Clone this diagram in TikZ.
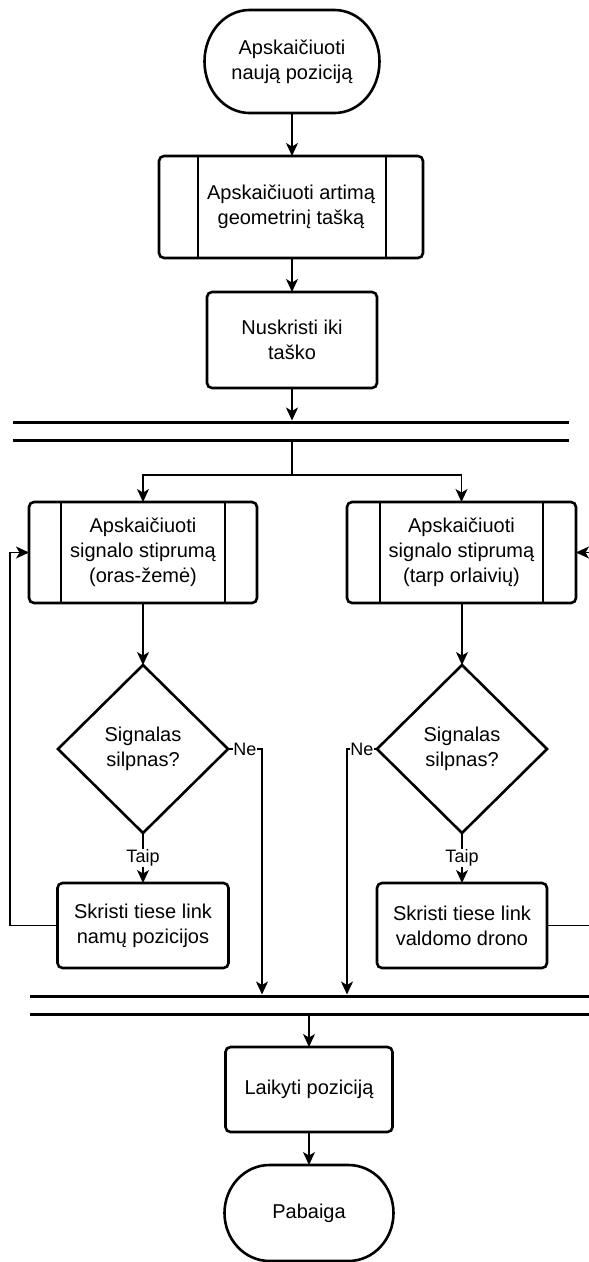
\documentclass[tikz,border=0pt]{standalone}
\usepackage{fontspec}
\setmainfont{Liberation Sans}
\usetikzlibrary{arrows.meta,shapes.geometric,calc}

\tikzset{
  base/.style={font=\fontsize{20}{25}\selectfont, align=center, inner sep=0pt, outer sep=0pt},
  proc/.style={base, draw, line width=2.6pt, rounded corners=5pt},
  term/.style={base},
  dec/.style={base, draw, diamond, aspect=1, line width=2.6pt},
  bar/.style={fill=black, inner sep=0pt, outer sep=0pt, minimum height=3pt},
  arr/.style={line width=1.3pt, -{Stealth[length=13pt,width=12pt,inset=3.5pt]}},
  lbl/.style={font=\fontsize{18}{21}\selectfont, fill=white, inner sep=1pt},
  outline/.style={line width=2.6pt, line join=round},
}

\begin{document}
\begin{tikzpicture}[x=1pt,y=1pt]
\useasboundingbox (0,0) rectangle (589,-1262);
\clip (0,0) rectangle (589,-1262);

% start terminator
\node[term, minimum width=175pt, minimum height=103pt] (start) at (292,-61.5) {Apskaičiuoti\\naują poziciją};
\draw[outline] ($(start.north west)+(45,0)$) -- ($(start.north east)+(-45,0)$)
  arc[start angle=90, end angle=-90, x radius=45, y radius=51.5]
  -- ($(start.south west)+(45,0)$)
  arc[start angle=270, end angle=90, x radius=45, y radius=51.5] -- cycle;

% predefined process: nearest geometric point
\node[proc, minimum width=264pt, minimum height=102pt] (sub1) at (291,-207) {Apskaičiuoti artimą\\geometrinį tašką};
\draw[outline] ([xshift=39pt]sub1.north west) -- ([xshift=39pt]sub1.south west);
\draw[outline] ([xshift=-37pt]sub1.north east) -- ([xshift=-37pt]sub1.south east);

\node[proc, minimum width=170pt, minimum height=96pt] (box2) at (292,-340) {Nuskristi iki\\taško};

% fork bars
\node[bar, minimum width=556pt] (bar1) at (291,-422) {};
\node[bar, minimum width=556pt] (bar2) at (291,-440) {};

% two parallel branches
\node[proc, minimum width=228pt, minimum height=101pt] (sub2) at (143,-552.5) {Apskaičiuoti\\signalo stiprumą\\(oras-žemė)};
\draw[outline] ([xshift=32pt]sub2.north west) -- ([xshift=32pt]sub2.south west);
\draw[outline] ([xshift=-32pt]sub2.north east) -- ([xshift=-32pt]sub2.south east);

\node[proc, minimum width=229pt, minimum height=101pt] (sub3) at (461.5,-552.5) {Apskaičiuoti\\signalo stiprumą\\(tarp orlaivių)};
\draw[outline] ([xshift=33pt]sub3.north west) -- ([xshift=33pt]sub3.south west);
\draw[outline] ([xshift=-33pt]sub3.north east) -- ([xshift=-33pt]sub3.south east);

\node[dec, minimum width=170pt, minimum height=168pt] (d1) at (143,-749) {Signalas\\silpnas?};
\node[dec, minimum width=170pt, minimum height=168pt] (d2) at (462,-749) {Signalas\\silpnas?};

\node[proc, minimum width=171pt, minimum height=85pt] (box3) at (143,-925.5) {Skristi tiese link\\namų pozicijos};
\node[proc, minimum width=170pt, minimum height=85pt] (box4) at (462,-925.5) {Skristi tiese link\\valdomo drono};

% join bars
\node[bar, minimum width=562pt] (bar3) at (311,-996) {};
\node[bar, minimum width=562pt] (bar4) at (311,-1014) {};

\node[proc, minimum width=167pt, minimum height=85pt] (box5) at (309,-1089.5) {Laikyti poziciją};

% end terminator
\node[term, minimum width=169pt, minimum height=96pt] (end) at (309,-1213) {Pabaiga};
\draw[outline] ($(end.north west)+(45,0)$) -- ($(end.north east)+(-45,0)$)
  arc[start angle=90, end angle=-90, x radius=45, y radius=48]
  -- ($(end.south west)+(45,0)$)
  arc[start angle=270, end angle=90, x radius=45, y radius=48] -- cycle;

% helper points for connector routing
\coordinate (split) at (292,-475);
\coordinate (noL) at (262,-749);
\coordinate (noR) at (347,-749);
\coordinate (loopL) at (10,0);
\coordinate (loopR) at (591,0);

% connectors
\draw[arr] (start.south) -- (start.south |- sub1.north);
\draw[arr] (sub1.south -| box2.north) -- (box2.north);
\draw[arr] (box2.south) -- (box2.south |- bar1.north);
\draw[line width=1.3pt] (box2.south |- bar2.south) -- (split);
\draw[arr] (split) -| (sub2.north);
\draw[arr] (split) -| (sub3.north);

\draw[arr] (sub2.south) -- (d1.north);
\draw[arr] (sub3.south -| d2.north) -- (d2.north);

\draw[arr] (d1.south) -- node[lbl]{Taip} (box3.north);
\draw[arr] (d2.south) -- node[lbl]{Taip} (box4.north);

\draw[arr] (d1.east) -- node[lbl, inner sep=0.5pt]{Ne} (noL) -- (noL |- bar3.north);
\draw[arr] (d2.west) -- node[lbl, inner sep=0.5pt]{Ne} (noR) -- (noR |- bar3.north);

\draw[arr] (box3.west) -| (loopL |- sub2.west) -- (sub2.west);
\draw[arr] (box4.east) -| (loopR |- sub3.east) -- (sub3.east);

\draw[arr] (box5.north |- bar4.south) -- (box5.north);
\draw[arr] (box5.south) -- (end.north);
\end{tikzpicture}
\end{document}
